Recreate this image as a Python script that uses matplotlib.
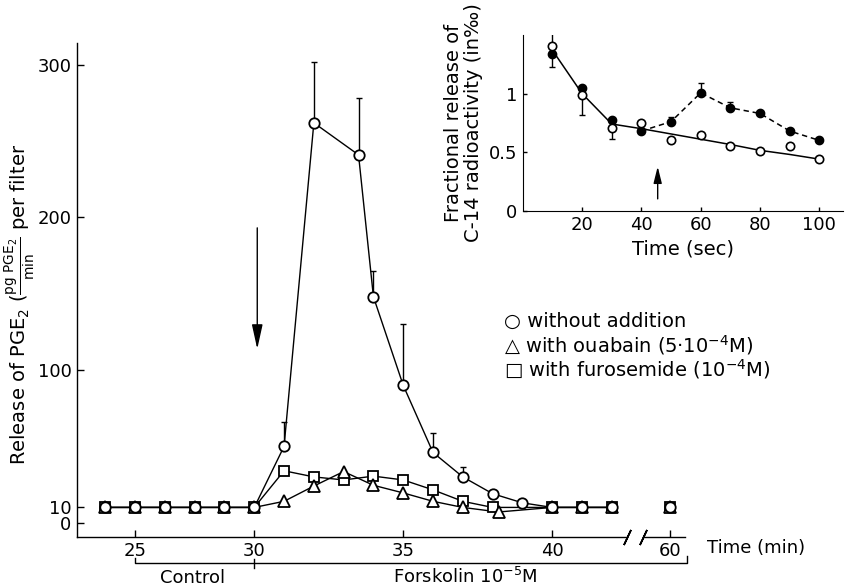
import numpy as np
import matplotlib
matplotlib.use('Agg')
import matplotlib.pyplot as plt

## data

# main panel: time (min) and PGE2 release
t_circ = [23.75, 25, 26.25, 27.5, 28.75, 30, 31, 32, 33.5, 34, 35, 36, 37, 38, 39, 40, 41, 42, 60]
v_circ = [10, 10, 10, 10, 10, 10, 50, 262, 241, 148, 90, 46, 30, 19, 13, 10, 10, 10, 10]
err_t = [31, 32, 33.5, 34, 35, 36, 37]
err_v = [50, 262, 241, 148, 90, 46, 30]
err_up = [16, 40, 37, 17, 40, 13, 6.5]

t_tri = [23.75, 25, 26.25, 27.5, 28.75, 30, 31, 32, 33, 34, 35, 36, 37, 38.2, 40, 41, 42, 60]
v_tri = [10, 10, 10, 10, 10, 10, 14, 24, 33.5, 24.5, 19.5, 14, 10, 7, 10, 10, 10, 10]

t_sq = [23.75, 25, 26.25, 27.5, 28.75, 30, 31, 32, 33, 34, 35, 36, 37, 38, 40, 41, 42, 60]
v_sq = [10, 10, 10, 10, 10, 10, 34, 30, 28, 30.5, 28, 21.5, 14, 10, 10, 10, 10, 10]

xticks = [25, 30, 35, 40, 60]
yticks = [0, 10, 100, 200, 300]

# inset: time (sec) and fractional release
ts = [10, 20, 30, 40, 50, 60, 70, 80, 90, 100]
open_v = [1.41, 0.99, 0.71, 0.75, 0.60, 0.65, 0.554, 0.509, 0.55, 0.443]
filled_v = [1.34, 1.05, 0.77, 0.68, 0.76, 1.006, 0.878, 0.83, 0.68, 0.60]
fit_v = [1.37, 1.0, 0.74, 0.70, 0.655, 0.61, 0.565, 0.515, 0.48, 0.44]
open_err_t = [10, 20, 30]
open_err_v = [1.41, 0.99, 0.71]
open_err = [[0, 0.175, 0.10], [0.12, 0, 0]]
fill_err_t = [10, 50, 60, 70]
fill_err_v = [1.34, 0.76, 1.006, 0.878]
fill_err = [[0.11, 0, 0, 0], [0, 0.04, 0.085, 0.05]]

plt.rcParams['font.family'] = ['DejaVu Sans']

fig = plt.figure(figsize=(8.46, 5.86), dpi=100)
ax = fig.add_axes([0.0910, 0.0841, 0.7187, 0.8425])

# piecewise time axis: control part compressed, gap between 42.5 and 59
tk = [15, 30, 42.5, 59, 70]
pk = [18, 30, 42.5, 42.96, 53.96]
ax.set_xscale('function', functions=(lambda t: np.interp(t, tk, pk),
                                     lambda p: np.interp(p, pk, tk)))
ax.set_xlim(22.56, 60.5)
ax.set_ylim(-9.2, 314.3)

for t, v, m, ms in [(t_sq, v_sq, 's', 7.5), (t_tri, v_tri, '^', 8), (t_circ, v_circ, 'o', 7.5)]:
    t = np.array(t)
    v = np.array(v)
    pre = t < 50
    ax.plot(t[pre], v[pre], '-', color='k', lw=1, zorder=2)
    ax.plot(t, v, m, ms=ms, ls='none', mfc='white', mec='k', mew=1.3, zorder=4)

ax.errorbar(err_t, err_v, yerr=[np.zeros(len(err_up)), err_up], fmt='none',
            ecolor='k', elinewidth=1, capsize=2.5, zorder=1)

for s in ['top', 'right', 'bottom']:
    ax.spines[s].set_visible(False)
ax.spines['left'].set_linewidth(1)

ax.set_xticks(xticks)
ax.set_xticklabels([str(x) for x in xticks])
ax.set_yticks(yticks)
ax.set_yticklabels([str(y) for y in yticks])
ax.minorticks_off()
ax.tick_params(direction='in', length=5, width=1, labelsize=13, pad=4)

# broken x axis line with // marks
xa = ax.get_xaxis_transform()
ax.plot([22.56, 42.5], [0, 0], color='k', lw=1, transform=xa, clip_on=False)
ax.plot([59.1, 60.5], [0, 0], color='k', lw=1, transform=xa, clip_on=False)
for xb in [42.5, 59.1]:
    ax.plot([xb], [0], marker=(2, 2, -25), ms=12, mew=1.2, color='k',
            transform=xa, clip_on=False)

ax.annotate('Time (min)', xy=(1, 0), xycoords='axes fraction', xytext=(22, -11),
            textcoords='offset pixels', ha='left', va='center', fontsize=13)

ax.set_ylabel(r'Release of PGE$_2$ ($\frac{\mathrm{pg\ PGE_2}}{\mathrm{min}}$ per filter',
              fontsize=14)
ax.yaxis.set_label_coords(-0.0655, 0.47)

# Control / Forskolin brackets
ax.plot([25, 25, 60.57, 60.57], [-0.043, -0.054, -0.054, -0.040], color='k', lw=1,
        transform=xa, clip_on=False)
ax.plot([30, 30], [-0.046, -0.064], color='k', lw=1, transform=xa, clip_on=False)
ax.text(27.4, -0.094, 'Control', transform=xa, ha='center', va='baseline', fontsize=13)
ax.text(37.1, -0.094, r'Forskolin 10$^{-5}$M', transform=xa, ha='center',
        va='baseline', fontsize=13)

# arrow for forskolin addition
ax.annotate('', xy=(30.1, 112), xytext=(30.1, 195),
            arrowprops=dict(arrowstyle='-|>,head_length=1.0,head_width=0.22',
                            mutation_scale=15, color='k', lw=1))

# legend as text lines
leg = ['\u25cb without addition',
       '\u25b3 with ouabain (5\u00b710$^{-4}$M)',
       '\u25a1 with furosemide (10$^{-4}$M)']
for i, s in enumerate(leg):
    ax.text(0.703, 0.437 - i * 0.049, s, transform=ax.transAxes, ha='left',
            va='center', fontsize=14)

## inset
ins = fig.add_axes([0.6179, 0.6405, 0.3786, 0.2998])
ins.plot(ts, fit_v, '-', color='k', lw=1.1, zorder=2)
ins.plot(ts[3:], filled_v[3:], color='k', lw=1.1, ls=(0, (3.5, 2.5)), zorder=2)
ins.errorbar(open_err_t, open_err_v, yerr=open_err, fmt='none', ecolor='k',
             elinewidth=1, capsize=2, zorder=1)
ins.errorbar(fill_err_t, fill_err_v, yerr=fill_err, fmt='none', ecolor='k',
             elinewidth=1, capsize=2, zorder=1)
ins.plot(ts, filled_v, 'o', ms=6, mfc='k', mec='k', zorder=3)
ins.plot(ts, open_v, 'o', ms=6, mfc='white', mec='k', mew=1.2, zorder=4)

ins.set_xlim(0, 108)
ins.set_ylim(0, 1.5)
ins.set_xticks([20, 40, 60, 80, 100])
ins.set_yticks([0, 0.5, 1])
ins.set_yticklabels(['0', '0.5', '1'])
ins.tick_params(direction='in', length=3, width=1, labelsize=13, pad=4)
for s in ['top', 'right']:
    ins.spines[s].set_visible(False)
ins.set_xlabel('Time (sec)', fontsize=14, labelpad=4)
ins.set_ylabel('Fractional release of\nC-14 radioactivity (in\u2030)', fontsize=14,
               labelpad=4, linespacing=1.1)
ins.annotate('', xy=(45.5, 0.40), xytext=(45.5, 0.077),
             arrowprops=dict(arrowstyle='-|>,head_length=1.0,head_width=0.25',
                             mutation_scale=10, color='k', lw=1))

fig.savefig('out.png', dpi=100)
